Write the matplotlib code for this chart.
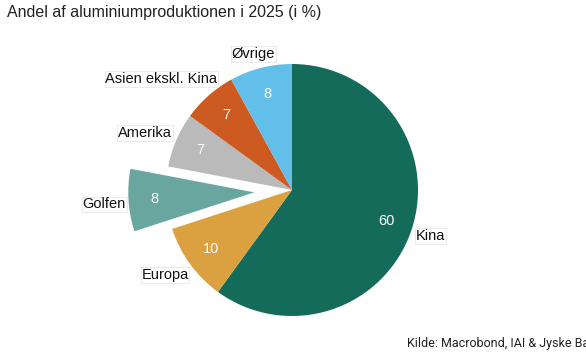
import matplotlib.pyplot as plt

# data
regions = ["Kina", "Europa", "Golfen", "Amerika", "Asien ekskl. Kina", "Øvrige"]
shares = [60, 10, 8, 7, 7, 8]
colors = ["#156b5a", "#dba040", "#6aa6a0", "#bababa", "#cd5a21", "#62bfe9"]
explode = [0, 0, 0.3, 0, 0, 0]

# label centres in pie-radius units (pie centre = 0,0)
label_xy = [(1.10, -0.365), (-1.008, -0.675), (-1.49, -0.115),
            (-1.167, 0.452), (-1.036, 0.881), (-0.306, 1.079)]

plt.rcParams['font.family'] = ['Liberation Sans', 'DejaVu Sans']

W, H, dpi = 586, 355, 100
fig = plt.figure(figsize=(W / dpi, H / dpi), dpi=dpi)
ax = fig.add_axes([0, 0, 1, 1])

wedges, texts, autotexts = ax.pie(
    shares, colors=colors, explode=explode, startangle=90, counterclock=False,
    autopct=lambda p: f"{p:.0f}", pctdistance=0.79, radius=1,
    textprops=dict(color='white', fontsize=10.5))

# pie centre / radius in pixels
cx, cy, R = 292, 190, 126
ax.set_xlim(-cx / R, (W - cx) / R)
ax.set_ylim(-(H - cy) / R, cy / R)
ax.set_aspect('equal')
ax.axis('off')

for name, (lx, ly) in zip(regions, label_xy):
    ax.text(lx, ly, name, ha='center', va='center', fontsize=10.5, color='#111111',
            bbox=dict(boxstyle='square,pad=0.05', fc='white', ec='#e6e6e6', lw=0.6))

fig.text(7 / W, 1 - 13 / H, "Andel af aluminiumproduktionen i 2025 (i %)",
         ha='left', va='center', fontsize=11.5, color='#222222')
fig.text(407 / W, 1 - 343 / H, "Kilde: Macrobond, IAI & Jyske Bank",
         ha='left', va='center', fontsize=9, color='#222222',
         family=['Roboto', 'DejaVu Sans'])

fig.savefig("out.png", dpi=dpi)
